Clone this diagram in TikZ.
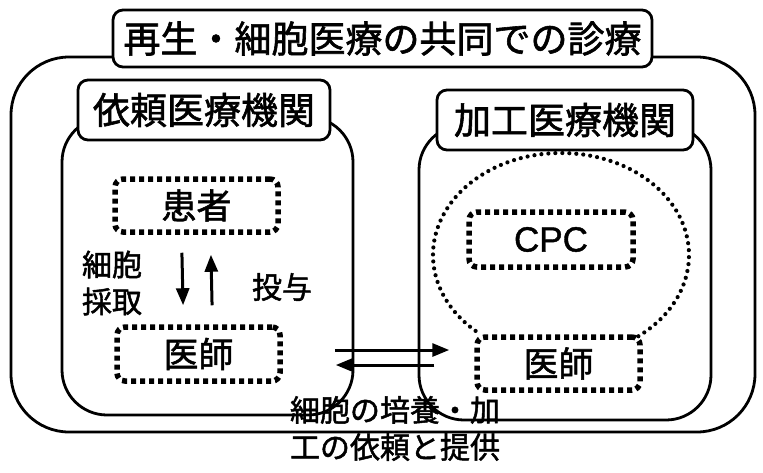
\documentclass[tikz,border=0pt]{standalone}
\usepackage{fontspec}
\setmainfont{Noto Sans CJK JP}[FakeBold=1.6]
\newfontfamily\latfont{Liberation Sans}[FakeBold=1.2]
\usetikzlibrary{arrows.meta}
\tikzset{
  bigbox/.style={draw, line width=2.8pt, inner sep=0pt, rounded corners=#1},
  tagbox/.style={draw, fill=white, line width=2.8pt, inner sep=0pt, rounded corners=10pt, font=\fontsize{37}{44}\selectfont},
  dotbox/.style={draw, line width=5.5pt, dash pattern=on 5pt off 4pt, inner sep=0pt, rounded corners=8pt, minimum width=163pt, minimum height=54pt, font=\fontsize{35}{42}\selectfont},
  dotline/.style={line width=4.2pt, dash pattern=on 0pt off 7pt, line cap=round},
  arr/.style={line width=3pt, -{Triangle[length=17pt,width=13pt]}},
  small/.style={font=\fontsize{30}{37}\selectfont, inner sep=0pt},
}
\begin{document}
\begin{tikzpicture}[x=1pt,y=-1pt]
\useasboundingbox (0,0) rectangle (763,472);
% outer and inner frames
\node[bigbox=58pt, minimum width=744pt, minimum height=375pt] (outer) at (383,244.5) {};
\node[bigbox=45pt, minimum width=291pt, minimum height=298pt] (leftorg) at (207.5,266) {};
\node[bigbox=45pt, minimum width=292pt, minimum height=295pt] (rightorg) at (565,272.5) {};
% tags
\node[tagbox, minimum width=252pt, minimum height=60pt] (lefttag) at (204,110) {依頼医療機関};
\node[tagbox, minimum width=256pt, minimum height=60pt] (righttag) at (565,120) {加工医療機関};
\node[tagbox, minimum width=539pt, minimum height=57pt] (title) at (382.5,38.5) {再生・細胞医療の共同での診療};
% dotted ellipse (CPC area)
\coordinate (ec) at (561,255);
\draw[dotline] (ec) ++(-52.8:128pt and 102pt) arc[start angle=-52.8, end angle=229.4, x radius=128pt, y radius=102pt];
% dotted boxes
\node[dotbox, minimum height=53pt] (kanja) at (196.5,205.5) {患者};
\node[dotbox] (ishiL) at (198.5,354) {医師};
\node[dotbox, minimum width=164pt, minimum height=55pt, font=\latfont\fontsize{35}{42}\selectfont] (cpc) at (551,239.5) {CPC};
\node[dotbox, minimum height=53pt] (ishiR) at (558.5,363.5) {医師};
% vertical arrows
\draw[arr, shorten <=18pt, shorten >=19pt] ([xshift=-15pt]kanja.south) -- ([xshift=-15pt]ishiL.north);
\draw[arr, shorten <=19pt, shorten >=20pt] ([xshift=14pt]ishiL.north) -- ([xshift=14pt]kanja.south);
% horizontal arrows
\draw[arr] ([shift={(52pt,4pt)}]ishiL.east) -- ([shift={(-25pt,13.5pt)}]ishiR.west);
\draw[arr] ([shift={(-40pt,-1.5pt)}]ishiR.west) -- ([shift={(53pt,-11pt)}]ishiL.east);
% labels
\node[small, align=center] (saishu) at (112,283) {細胞\\採取};
\node[small] (toyo) at (282,287) {投与};
\node[small, align=left] (irai) at (395,428.5) {細胞の培養・加\\工の依頼と提供};
\end{tikzpicture}
\end{document}
